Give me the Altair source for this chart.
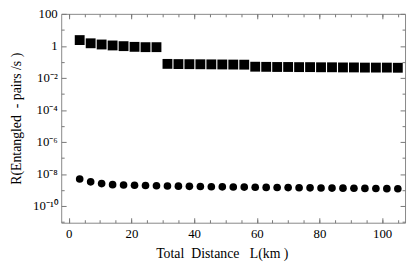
import altair as alt
import pandas as pd

# ---- data ----
distance_km = [3.5, 7, 10.5, 14, 17.5, 21, 24.5, 28, 31.5, 35, 38.5, 42, 45.5, 49, 52.5,
               56, 59.5, 63, 66.5, 70, 73.5, 77, 80.5, 84, 87.5, 91, 94.5, 98, 101.5, 105]
rate_squares = [2.3, 1.45, 1.22, 1.06, 0.96, 0.87, 0.83, 0.83,
                0.075, 0.073, 0.072, 0.071, 0.070, 0.069, 0.068, 0.067,
                0.050, 0.049, 0.048, 0.048, 0.047, 0.047, 0.046, 0.046,
                0.045, 0.045, 0.044, 0.044, 0.044, 0.043]
rate_circles = [4.8e-9, 3.2e-9, 2.5e-9, 2.15e-9, 2.05e-9, 1.98e-9, 1.9e-9, 1.83e-9,
                1.77e-9, 1.72e-9, 1.68e-9, 1.64e-9, 1.6e-9, 1.57e-9, 1.54e-9, 1.51e-9,
                1.48e-9, 1.45e-9, 1.42e-9, 1.4e-9, 1.37e-9, 1.35e-9, 1.33e-9, 1.31e-9,
                1.29e-9, 1.27e-9, 1.25e-9, 1.23e-9, 1.21e-9, 1.2e-9]

x_major = [0, 20, 40, 60, 80, 100]
x_minor = [0, 5, 10, 15, 20, 25, 30, 35, 40, 45, 50, 55, 60, 65, 70, 75, 80, 85, 90, 95, 100, 105]
y_major = [1e-10, 1e-8, 1e-6, 1e-4, 1e-2, 1, 100]
y_minor = [1e-11, 1e-9, 1e-7, 1e-5, 1e-3, 1e-1, 10]
y_label_map = {"2": "100", "0": "1", "-2": "10⁻²", "-4": "10⁻⁴", "-6": "10⁻⁶",
               "-8": "10⁻⁸", "-10": "10⁻¹⁰"}

sq = pd.DataFrame({"L": distance_km, "R": rate_squares})
ci = pd.DataFrame({"L": distance_km, "R": rate_circles})

W, H = 349, 212
FONT = "Liberation Serif"
TICK = "#777777"
NB = "\u00a0"

xs = alt.Scale(domain=[-2.4, 107.3], nice=False, zero=False)
ys = alt.Scale(type="log", domain=[9e-12, 100], nice=False)

label_expr = "{" + ",".join(f"'{k}':'{v}'" for k, v in y_label_map.items()) + "}[''+round(log(datum.value)/LN10)]"


def ax_ticks(orient, offset, values, size):
    return alt.Axis(orient=orient, offset=offset, values=values, ticks=True, tickSize=size,
                    tickColor=TICK, tickWidth=1, labels=False, domain=False, grid=False, title=None)


# layer 1: squares, carries the labelled axes
l1 = alt.Chart(sq).mark_point(shape="square", filled=True, size=100, color="black", opacity=1).encode(
    x=alt.X("L:Q", scale=xs, axis=alt.Axis(
        orient="bottom", values=x_major, ticks=False, domain=False, grid=False,
        labelFont=FONT, labelFontSize=13, labelColor="black", labelPadding=5,
        title=f"Total{NB}{NB}Distance{NB}{NB}{NB}L(km{NB})", titleFont=FONT, titleFontSize=14,
        titleFontWeight="normal", titleColor="black", titleX=163, titleY=31,
        titleBaseline="middle", titleAnchor="middle")),
    y=alt.Y("R:Q", scale=ys, axis=alt.Axis(
        orient="left", values=y_major, ticks=False, domain=False, grid=False,
        labelFont=FONT, labelFontSize=13, labelColor="black", labelPadding=4,
        labelExpr=label_expr,
        title=f"R(Entangled{NB}{NB}-{NB}pairs{NB}/s{NB})", titleFont=FONT, titleFontSize=14,
        titleFontWeight="normal", titleColor="black", titleX=-45, titleY=H / 2, titleAngle=-90,
        titleBaseline="middle", titleAlign="center")),
)

# layer 2: circles, inward major ticks on bottom/left
l2 = alt.Chart(ci).mark_circle(size=60, color="black", opacity=1).encode(
    x=alt.X("L:Q", scale=xs, axis=ax_ticks("top", -H, x_major, 5)),
    y=alt.Y("R:Q", scale=ys, axis=ax_ticks("right", -W, y_major, 5)),
)

# invisible layers carrying the other inward ticks
l3 = alt.Chart(sq).mark_point(opacity=0).encode(
    x=alt.X("L:Q", scale=xs, axis=ax_ticks("top", -H, x_minor, 3)),
    y=alt.Y("R:Q", scale=ys, axis=ax_ticks("right", -W, y_minor, 3)),
)
l4 = alt.Chart(sq).mark_point(opacity=0).encode(
    x=alt.X("L:Q", scale=xs, axis=ax_ticks("bottom", -H, x_major, 5)),
    y=alt.Y("R:Q", scale=ys, axis=ax_ticks("left", -W, y_major, 5)),
)
l5 = alt.Chart(sq).mark_point(opacity=0).encode(
    x=alt.X("L:Q", scale=xs, axis=ax_ticks("bottom", -H, x_minor, 3)),
    y=alt.Y("R:Q", scale=ys, axis=ax_ticks("left", -W, y_minor, 3)),
)

chart = alt.layer(l1, l2, l3, l4, l5).resolve_axis(x="independent", y="independent").properties(
    width=W, height=H,
    autosize=alt.AutoSizeParams(type="none"),
    padding={"left": 54, "top": 4, "right": 2, "bottom": 42},
    background="white",
).configure_view(stroke="#888888", strokeWidth=1)

chart.save("out.html", embed_options={"renderer": "svg", "actions": False})
